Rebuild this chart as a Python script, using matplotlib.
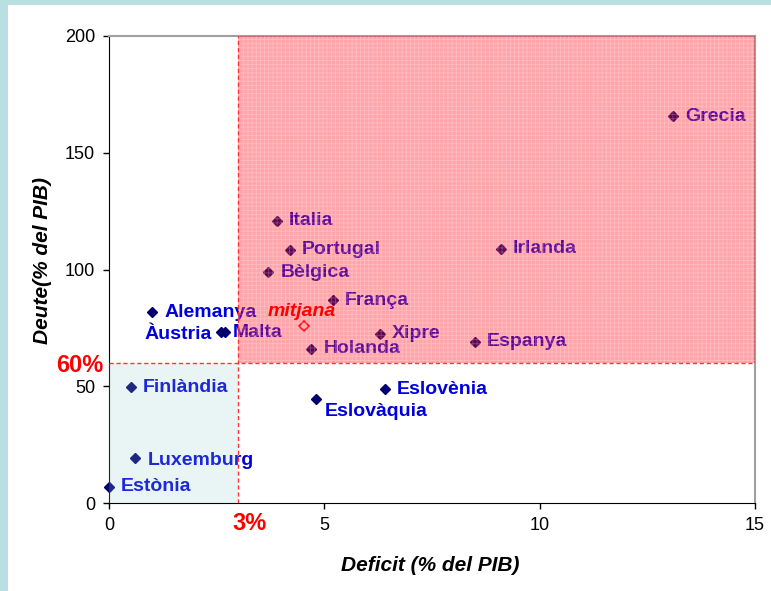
#Deficit vs debt scatter for euro countries
import numpy as np
import matplotlib.pyplot as plt
from matplotlib.patches import Rectangle

plt.rcParams['font.family'] = ['Liberation Sans', 'DejaVu Sans']
plt.rcParams['hatch.linewidth'] = 0.6

# Data (% del PIB)
countries = ['Grecia', 'Italia', 'Portugal', 'Irlanda', 'Bèlgica', 'França', 'Xipre', 'Espanya',
             'Holanda', 'Alemanya', 'Àustria', 'Malta', 'Finlàndia', 'Luxemburg', 'Estònia',
             'Eslovènia', 'Eslovàquia']
deficit = [13.1, 3.9, 4.2, 9.1, 3.7, 5.2, 6.3, 8.5, 4.7, 1.0, 2.6, 2.7, 0.5, 0.6, 0.0, 6.4, 4.8]
debt = [165.7, 120.8, 108.4, 108.8, 98.9, 86.9, 72.5, 69.0, 66.0, 81.7, 73.1, 73.1, 49.6, 19.1,
        6.9, 48.7, 44.5]
mean_deficit = 4.53
mean_debt = 75.9
deficit_limit = 3
debt_limit = 60

# label offsets in pixels (dx, dy, ha)
label_pos = {'Àustria': (-9, -2, 'right'), 'Malta': (7, 0, 'left'),
             'Eslovàquia': (9, -12, 'left'), 'Luxemburg': (13, -2, 'left')}

fig = plt.figure(figsize=(7.71, 5.91), dpi=100)
fig.patch.set_facecolor('#b9dfe3')
fig.patches.append(Rectangle((8 / 771, 0), 1, 586 / 591, transform=fig.transFigure,
                             facecolor='white', edgecolor='none', zorder=-1))
ax = fig.add_axes([109 / 771, 88 / 591, 646 / 771, 467 / 591])

# points and labels
ax.plot(deficit, debt, 'D', color='#000070', markersize=5.5, clip_on=False, zorder=3)
for name, x, y in zip(countries, deficit, debt):
    dx, dy, ha = label_pos.get(name, (12, 0, 'left'))
    ax.annotate(name, xy=(x, y), xytext=(dx, dy), textcoords='offset pixels', ha=ha,
                va='center', color='#0000dd', fontsize=14, fontweight='bold', zorder=3)

# average
ax.plot(mean_deficit, mean_debt, 'D', markerfacecolor='white', markeredgecolor='red',
        markersize=5, markeredgewidth=1.2, zorder=3)
ax.annotate('mitjana', xy=(mean_deficit, mean_debt), xytext=(-2, 14), textcoords='offset pixels',
            ha='center', va='center', color='red', fontsize=14, fontweight='bold',
            fontstyle='italic', zorder=7)

# shaded zones
ax.add_patch(Rectangle((deficit_limit, debt_limit), 15 - deficit_limit, 200 - debt_limit,
                       facecolor=(1, 0.05, 0.1, 0.37), edgecolor='none', zorder=5))
ax.add_patch(Rectangle((deficit_limit, debt_limit), 15 - deficit_limit, 200 - debt_limit,
                       facecolor='none', edgecolor=(1, 1, 1, 0.25), hatch='++++', lw=0, zorder=5))
ax.add_patch(Rectangle((0, 0), deficit_limit, debt_limit,
                       facecolor=(0.57, 0.8, 0.8, 0.2), edgecolor='none', zorder=5))
ax.plot([deficit_limit, deficit_limit], [0, 200], color='#ff3333', lw=1, ls=(0, (3, 2)), zorder=6)
ax.plot([0, 15], [debt_limit, debt_limit], color='#ff3333', lw=1, ls=(0, (3, 2)), zorder=6)

ax.set_xlim(0, 15)
ax.set_ylim(0, 200)
ax.set_xticks([0, 5, 10, 15])
ax.set_yticks([0, 50, 100, 150, 200])
ax.tick_params(direction='out', length=4, width=1, labelsize=13, pad=6, colors='black')
for s in ['top', 'right']:
    ax.spines[s].set_color('#a0a0a0')
    ax.spines[s].set_linewidth(1.5)

ax.annotate('3%', xy=(deficit_limit, 0), xytext=(11, -21), textcoords='offset pixels',
            ha='center', va='center', color='red', fontsize=17, fontweight='bold',
            annotation_clip=False)
ax.annotate('60%', xy=(0, debt_limit), xytext=(-6, -3), textcoords='offset pixels',
            ha='right', va='center', color='red', fontsize=17, fontweight='bold',
            annotation_clip=False)

ax.set_xlabel('Deficit (% del PIB)', fontsize=15, fontweight='bold', fontstyle='italic')
ax.set_ylabel('Deute(% del PIB)', fontsize=15, fontweight='bold', fontstyle='italic')
ax.xaxis.set_label_coords(0.497, -0.113)
ax.yaxis.set_label_coords(-0.088, 0.52)

plt.savefig('out.png', dpi=100)
